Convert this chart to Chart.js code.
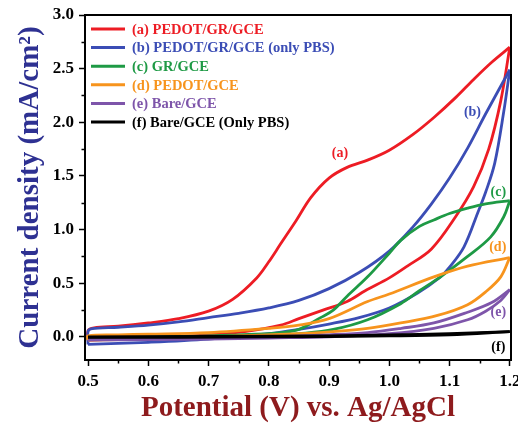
<!DOCTYPE html>
<html>
<head>
<meta charset="utf-8">
<script src="https://cdn.jsdelivr.net/npm/chart.js@4/dist/chart.umd.min.js"></script>
<style>
html,body{margin:0;padding:0;background:#fff;}
#wrap{width:518px;height:423px;}
</style>
</head>
<body>
<div id="wrap"><canvas id="c" width="518" height="423" style="width:518px;height:423px"></canvas></div>
<script>
// ---- series labels & colours ----
const seriesLabels = ['(a) PEDOT/GR/GCE', '(b) PEDOT/GR/GCE (only PBS)', '(c) GR/GCE', '(d) PEDOT/GCE', '(e) Bare/GCE', '(f) Bare/GCE (Only PBS)'];
const seriesColors = ['#ed1c24', '#3b4db5', '#1e9a45', '#f7941d', '#7e55aa', '#000000'];

// ---- (a) PEDOT/GR/GCE : forward (anodic) and reverse scans ----
const aFwdV = [0.5, 0.5, 0.51, 0.55, 0.6, 0.65, 0.7, 0.74, 0.78, 0.80, 0.82, 0.845, 0.87, 0.9, 0.93, 0.965, 1.0, 1.04, 1.075, 1.11, 1.14, 1.17, 1.2];
const aFwdI = [-0.03, 0.06, 0.085, 0.10, 0.13, 0.17, 0.24, 0.35, 0.55, 0.70, 0.87, 1.08, 1.30, 1.48, 1.58, 1.65, 1.74, 1.89, 2.05, 2.23, 2.40, 2.56, 2.70];
const aRevV = [1.2, 1.185, 1.165, 1.14, 1.11, 1.07, 1.03, 1.0, 0.96, 0.93, 0.89, 0.85, 0.82, 0.76, 0.7, 0.6, 0.5];
const aRevI = [2.70, 2.20, 1.75, 1.40, 1.12, 0.82, 0.66, 0.55, 0.43, 0.33, 0.25, 0.17, 0.11, 0.05, 0.02, -0.01, -0.03];

// ---- (b) PEDOT/GR/GCE (only PBS) ----
const bFwdV = [0.5, 0.5, 0.505, 0.55, 0.6, 0.65, 0.7, 0.75, 0.8, 0.85, 0.9, 0.95, 1.0, 1.04, 1.07, 1.1, 1.13, 1.16, 1.2];
const bFwdI = [-0.07, 0.05, 0.075, 0.09, 0.11, 0.14, 0.18, 0.22, 0.27, 0.34, 0.45, 0.60, 0.80, 1.03, 1.24, 1.48, 1.76, 2.08, 2.49];
const bRevV = [1.2, 1.19, 1.175, 1.16, 1.147, 1.124, 1.1, 1.085, 1.047, 1.0, 0.95, 0.9, 0.85, 0.8, 0.7, 0.6, 0.5];
const bRevI = [2.49, 2.10, 1.62, 1.35, 1.16, 0.84, 0.65, 0.56, 0.41, 0.27, 0.18, 0.12, 0.07, 0.03, -0.02, -0.05, -0.07];

// ---- (c) GR/GCE ----
const cFwdV = [0.5, 0.6, 0.7, 0.75, 0.8, 0.82, 0.85, 0.886, 0.907, 0.93, 0.964, 1.0, 1.019, 1.05, 1.074, 1.1, 1.13, 1.16, 1.2];
const cFwdI = [-0.01, 0.0, 0.01, 0.02, 0.03, 0.04, 0.07, 0.18, 0.25, 0.38, 0.56, 0.78, 0.90, 1.03, 1.09, 1.15, 1.20, 1.24, 1.27];
const cRevV = [1.2, 1.19, 1.168, 1.13, 1.085, 1.05, 1.019, 0.964, 0.907, 0.85, 0.8, 0.7, 0.6, 0.5];
const cRevI = [1.27, 1.12, 0.93, 0.75, 0.56, 0.43, 0.31, 0.16, 0.07, 0.03, 0.01, 0.0, -0.01, -0.02];

// ---- (d) PEDOT/GCE ----
const dFwdV = [0.5, 0.5, 0.55, 0.6, 0.7, 0.8, 0.85, 0.9, 0.964, 1.0, 1.074, 1.13, 1.2];
const dFwdI = [-0.03, 0.01, 0.02, 0.025, 0.04, 0.08, 0.11, 0.17, 0.33, 0.40, 0.56, 0.66, 0.74];
const dRevV = [1.2, 1.185, 1.16, 1.13, 1.08, 1.019, 0.964, 0.907, 0.85, 0.7, 0.6, 0.5];
const dRevI = [0.74, 0.56, 0.42, 0.30, 0.20, 0.13, 0.08, 0.05, 0.03, 0.0, -0.02, -0.03];

// ---- (e) Bare/GCE ----
const eFwdV = [0.5, 0.6, 0.7, 0.8, 0.9, 0.964, 1.02, 1.074, 1.13, 1.17, 1.2];
const eFwdI = [-0.02, -0.02, -0.01, 0.0, 0.02, 0.04, 0.08, 0.13, 0.23, 0.32, 0.44];
const eRevV = [1.2, 1.185, 1.16, 1.13, 1.074, 1.0, 0.9, 0.8, 0.7, 0.5];
const eRevI = [0.44, 0.34, 0.24, 0.16, 0.08, 0.03, 0.0, -0.01, -0.02, -0.03];

// ---- (f) Bare/GCE (Only PBS) ----
const fFwdV = [0.5, 0.7, 0.9, 1.0, 1.1, 1.2];
const fFwdI = [0.0, 0.005, 0.01, 0.02, 0.03, 0.05];
const fRevV = [1.2, 1.1, 1.0, 0.8, 0.5];
const fRevI = [0.05, 0.02, 0.01, 0.0, -0.005];

// ---- axis ticks ----
const xTickStep = 0.1, xMinorStep = 0.05;
const yTickStep = 0.5, yMinorStep = 0.25;

// ---- curve tags (a)..(f), in data coordinates ----
const tagText = ['(a)', '(b)', '(c)', '(d)', '(e)', '(f)'];
const tagV = [0.918, 1.138, 1.181, 1.180, 1.181, 1.181];
const tagI = [1.71, 2.09, 1.35, 0.83, 0.23, -0.10];

const branches = [
  [aFwdV, aFwdI, aRevV, aRevI],
  [bFwdV, bFwdI, bRevV, bRevI],
  [cFwdV, cFwdI, cRevV, cRevI],
  [dFwdV, dFwdI, dRevV, dRevI],
  [eFwdV, eFwdI, eRevV, eRevI],
  [fFwdV, fFwdI, fRevV, fRevI]
];

const SERIF = '"Liberation Serif", "Times New Roman", serif';
const datasets = [];
branches.forEach((b, s) => {
  [[b[0], b[1]], [b[2], b[3]]].forEach((pair, k) => {
    datasets.push({
      label: seriesLabels[s] + (k ? ' rev' : ' fwd'),
      data: pair[0].map((v, i) => ({x: v, y: pair[1][i]})),
      showLine: true,
      borderColor: seriesColors[s],
      backgroundColor: seriesColors[s],
      borderWidth: 2.8,
      pointRadius: 0,
      tension: 0.35,
      fill: false,
      order: 10 - s
    });
  });
});

const framePlugin = {
  id: 'frame',
  afterDraw(chart) {
    const {ctx, chartArea: ca, scales} = chart;
    const xs = scales.x, ys = scales.y;
    ctx.save();
    ctx.strokeStyle = '#000';
    ctx.lineWidth = 1.5;
    // minor ticks
    ctx.beginPath();
    for (let v = 0.5 + xMinorStep; v < 1.2; v += xTickStep) {
      const px = Math.round(xs.getPixelForValue(v)) + 0.5;
      ctx.moveTo(px, ca.bottom); ctx.lineTo(px, ca.bottom + 3.5);
    }
    for (let v = yMinorStep; v < 3.0; v += yTickStep) {
      const py = Math.round(ys.getPixelForValue(v)) + 0.5;
      ctx.moveTo(ca.left, py); ctx.lineTo(ca.left - 3.5, py);
    }
    ctx.stroke();
    // frame
    ctx.lineWidth = 2;
    ctx.strokeRect(ca.left, ca.top, ca.right - ca.left, ca.bottom - ca.top);
    // legend
    ctx.textBaseline = 'middle';
    ctx.textAlign = 'left';
    ctx.font = 'bold 14.5px ' + SERIF;
    seriesLabels.forEach((t, i) => {
      const y = ca.top + 14 + i * 18.6;
      ctx.strokeStyle = seriesColors[i];
      ctx.lineWidth = 3;
      ctx.beginPath();
      ctx.moveTo(ca.left + 6, y); ctx.lineTo(ca.left + 40, y);
      ctx.stroke();
      ctx.fillStyle = seriesColors[i];
      ctx.fillText(t, ca.left + 47, y + 1);
    });
    // curve tags
    ctx.textAlign = 'center';
    ctx.font = 'bold 14px ' + SERIF;
    tagText.forEach((t, i) => {
      ctx.fillStyle = seriesColors[i];
      ctx.fillText(t, xs.getPixelForValue(tagV[i]), ys.getPixelForValue(tagI[i]));
    });
    ctx.restore();
  }
};

new Chart(document.getElementById('c'), {
  type: 'scatter',
  data: {datasets},
  plugins: [framePlugin],
  options: {
    responsive: false,
    animation: false,
    devicePixelRatio: 1,
    layout: {padding: {top: 15, right: 7, left: 0, bottom: 0}},
    plugins: {legend: {display: false}, tooltip: {enabled: false}},
    scales: {
      x: {
        type: 'linear', position: 'bottom',
        min: 0.495, max: 1.202,
        border: {display: false},
        grid: {display: true, drawOnChartArea: false, drawTicks: true, tickLength: 6, tickWidth: 1.5, tickColor: '#000'},
        ticks: {stepSize: xTickStep, includeBounds: false, autoSkip: false, maxRotation: 0, padding: 5,
          color: '#000', font: {family: SERIF, size: 17, weight: 'bold'},
          callback: v => Number(v).toFixed(1)},
        title: {display: true, text: 'Potential (V) vs. Ag/AgCl', color: '#8e1b1d',
          font: {family: SERIF, size: 29, weight: 'bold', lineHeight: 1}, padding: {top: 0, bottom: 0}},
        afterFit: s => { s.height = 63; s.paddingLeft = 0; s.paddingRight = 0; }
      },
      y: {
        type: 'linear', position: 'left',
        min: -0.215, max: 3.0,
        border: {display: false},
        grid: {display: true, drawOnChartArea: false, drawTicks: true, tickLength: 6, tickWidth: 1.5, tickColor: '#000'},
        ticks: {stepSize: yTickStep, includeBounds: false, autoSkip: false, padding: 5,
          color: '#000', font: {family: SERIF, size: 17, weight: 'bold'},
          callback: v => Number(v).toFixed(1)},
        title: {display: true, text: 'Current density (mA/cm²)', color: '#2e3192',
          font: {family: SERIF, size: 29, weight: 'bold', lineHeight: 1}, padding: {top: 16, bottom: 0}},
        afterFit: s => { s.width = 85; s.paddingTop = 0; s.paddingBottom = 0; }
      }
    }
  }
});
</script>
</body>
</html>
